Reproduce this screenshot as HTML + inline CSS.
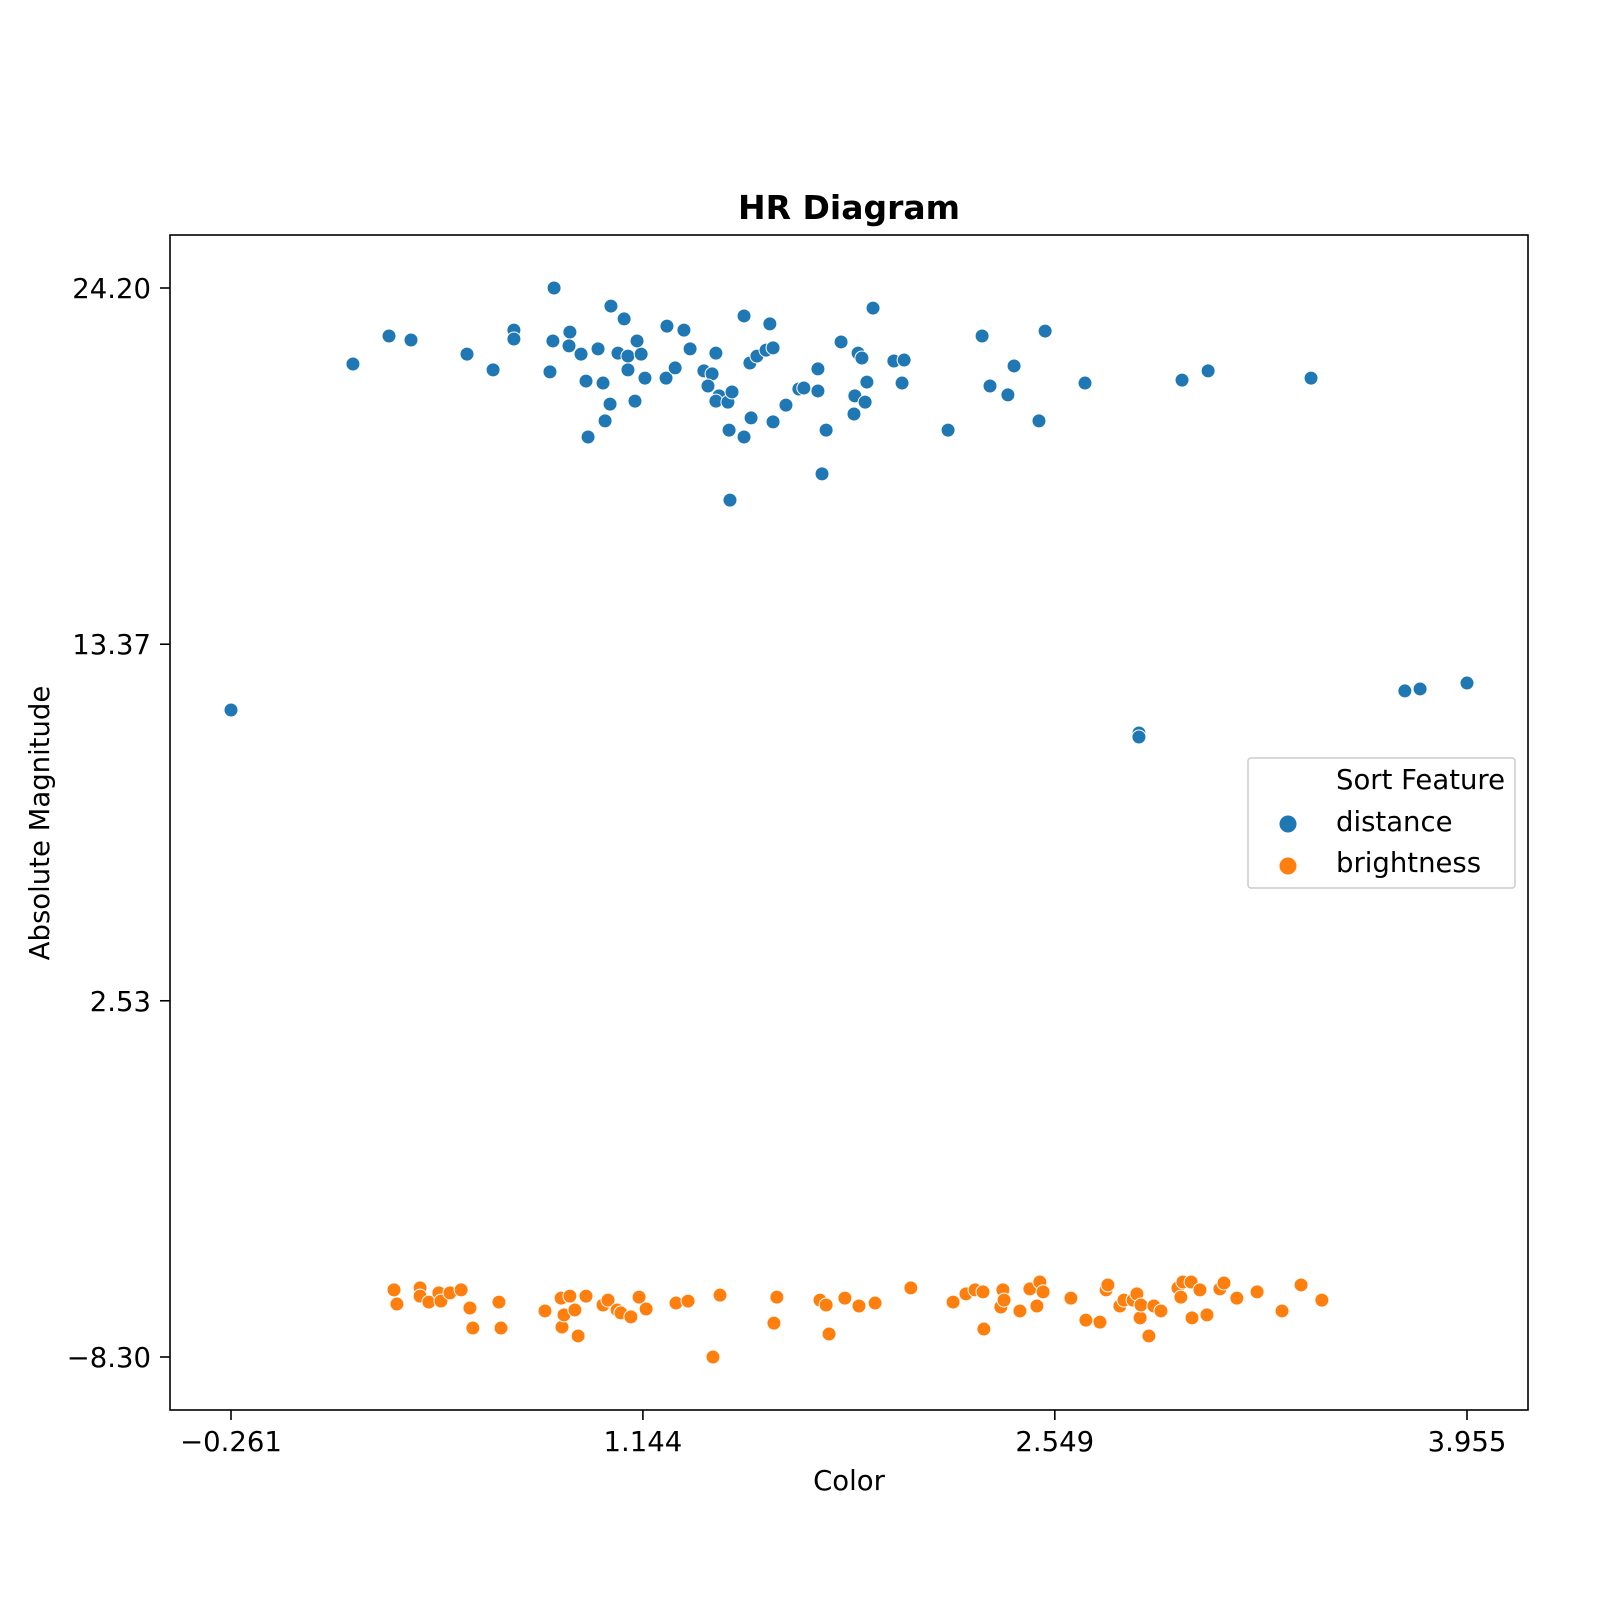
<!DOCTYPE html>
<html><head><meta charset="utf-8"><style>
html,body{margin:0;padding:0;background:#fff;}
svg{display:block;font-family:"DejaVu Sans","Liberation Sans",sans-serif;}
</style></head><body>
<svg id="chart" width="1600" height="1600" viewBox="0 0 1600 1600">
<rect x="0" y="0" width="1600" height="1600" fill="#fff"/>
<text x="849" y="219" text-anchor="middle" font-size="33" font-weight="bold">HR Diagram</text>
<g id="marks"></g>
<rect x="170" y="235" width="1358" height="1175" fill="none" stroke="#000" stroke-width="1.6"/>
<g id="axes"></g>
<text x="849" y="1490" text-anchor="middle" font-size="27.5">Color</text>
<text x="49" y="823" text-anchor="middle" font-size="27.5" transform="rotate(-90 49 823)">Absolute Magnitude</text>
<g>
<rect x="1248" y="758" width="267" height="130" rx="3" fill="#fff" stroke="#ccc" stroke-width="1.5"/>
<text x="1336" y="789" font-size="27.5">Sort Feature</text>
<circle cx="1288" cy="824" r="9" fill="#1f77b4" stroke="#fff" stroke-width="1"/>
<text x="1336" y="831" font-size="27.5">distance</text>
<circle cx="1288" cy="866" r="9" fill="#ff7f0e" stroke="#fff" stroke-width="1"/>
<text x="1336" y="872" font-size="27.5">brightness</text>
</g>
</svg>
<script>
const xTicks = [-0.261, 1.144, 2.549, 3.955];
const yTicks = [24.20, 13.37, 2.53, -8.30];
const xTickLabels = ["\u22120.261", "1.144", "2.549", "3.955"];
const yTickLabels = ["24.20", "13.37", "2.53", "\u22128.30"];

const distanceX = [0.841,1.035,1.929,0.278,0.353,0.704,0.895,1.080,1.226,1.284,1.489,1.577,2.301,2.516,0.155,0.544,0.633,0.704,0.837,0.892,0.827,0.933,0.991,1.059,1.093,1.138,1.124,1.093,1.151,0.950,1.008,1.223,1.254,1.305,1.393,1.352,1.380,1.366,1.404,1.393,1.434,1.448,1.509,1.533,1.564,1.588,1.820,1.741,1.878,1.891,2.000,2.035,1.908,2.028,1.676,1.693,1.741,1.867,1.902,1.864,1.632,1.513,1.588,1.032,1.117,1.015,0.957,1.438,1.489,1.769,2.185,2.410,2.328,2.389,2.495,2.652,2.983,3.072,3.423,1.755,1.441,-0.261,2.836,2.836,3.743,3.795,3.955];
const distanceY = [24.20,23.65,23.59,22.74,22.62,22.92,22.86,23.26,23.04,22.92,23.35,23.11,22.74,22.89,21.89,22.19,21.71,22.65,22.59,22.44,21.65,22.19,22.35,22.22,22.13,22.19,22.59,21.71,21.46,21.37,21.31,21.46,21.77,22.35,22.22,21.68,21.59,21.22,20.92,20.76,20.73,21.04,21.92,22.13,22.31,22.38,22.56,21.74,22.22,22.07,21.98,22.01,21.34,21.31,21.13,21.16,21.07,20.92,20.73,20.37,20.64,20.25,20.13,20.67,20.76,20.16,19.67,19.88,19.67,19.88,19.88,21.83,21.22,20.95,20.16,21.31,21.40,21.68,21.46,18.55,17.75,11.37,10.67,10.55,11.95,12.01,12.19];

const brightnessX = [0.295,0.305,0.384,0.384,0.414,0.448,0.455,0.486,0.524,0.554,0.564,0.653,0.660,0.810,0.865,0.868,0.875,0.895,0.912,0.923,0.950,1.008,1.025,1.056,1.069,1.103,1.131,1.155,1.257,1.298,1.383,1.407,1.591,1.601,1.748,1.769,1.779,1.833,1.881,1.936,2.058,2.202,2.246,2.277,2.304,2.307,2.365,2.372,2.376,2.430,2.464,2.488,2.498,2.509,2.604,2.655,2.703,2.724,2.730,2.771,2.785,2.816,2.829,2.840,2.843,2.870,2.887,2.911,2.969,2.979,2.986,3.014,3.017,3.044,3.068,3.112,3.126,3.170,3.239,3.324,3.389,3.460];
const brightnessY = [-6.26,-6.69,-6.20,-6.45,-6.63,-6.35,-6.60,-6.35,-6.26,-6.81,-7.42,-6.63,-7.42,-6.90,-6.51,-7.39,-7.02,-6.45,-6.87,-7.66,-6.45,-6.72,-6.57,-6.87,-6.96,-7.08,-6.48,-6.84,-6.66,-6.60,-8.30,-6.42,-7.27,-6.48,-6.57,-6.72,-7.60,-6.51,-6.75,-6.66,-6.20,-6.63,-6.38,-6.26,-6.32,-7.45,-6.78,-6.26,-6.57,-6.90,-6.23,-6.75,-6.02,-6.32,-6.51,-7.18,-7.24,-6.26,-6.11,-6.75,-6.57,-6.57,-6.38,-7.11,-6.72,-7.66,-6.75,-6.90,-6.20,-6.48,-6.02,-6.02,-7.11,-6.26,-7.02,-6.23,-6.05,-6.51,-6.32,-6.90,-6.11,-6.57];

const NS = "http://www.w3.org/2000/svg";
function xScale(v){ return 231 + (v - (-0.261)) / (3.955 - (-0.261)) * (1467 - 231); }
function yScale(v){ return 1357 - (v - (-8.30)) / (24.20 - (-8.30)) * (1357 - 288); }

const axes = document.getElementById('axes');
xTicks.forEach(function(t, i){
  const x = xScale(t);
  const ln = document.createElementNS(NS, 'line');
  ln.setAttribute('x1', x); ln.setAttribute('x2', x);
  ln.setAttribute('y1', 1410); ln.setAttribute('y2', 1420);
  ln.setAttribute('stroke', '#000'); ln.setAttribute('stroke-width', '1.6');
  
  
  axes.appendChild(ln);
  const tx = document.createElementNS(NS, 'text');
  tx.setAttribute('x', x); tx.setAttribute('y', 1451);
  tx.setAttribute('text-anchor', 'middle'); tx.setAttribute('font-size', '27.5');
  tx.textContent = xTickLabels[i];
  
  
  axes.appendChild(tx);
});
yTicks.forEach(function(t, i){
  const y = yScale(t);
  const ln = document.createElementNS(NS, 'line');
  ln.setAttribute('x1', 160); ln.setAttribute('x2', 170);
  ln.setAttribute('y1', y); ln.setAttribute('y2', y);
  ln.setAttribute('stroke', '#000'); ln.setAttribute('stroke-width', '1.6');
  
  
  axes.appendChild(ln);
  const tx = document.createElementNS(NS, 'text');
  tx.setAttribute('x', 151); tx.setAttribute('y', y + 10);
  tx.setAttribute('text-anchor', 'end'); tx.setAttribute('font-size', '27.5');
  tx.textContent = yTickLabels[i];
  
  
  axes.appendChild(tx);
});

const marks = document.getElementById('marks');
function drawSeries(xs, ys, color, name){
  for (let i = 0; i < xs.length; i++){
    const c = document.createElementNS(NS, 'circle');
    c.setAttribute('cx', xScale(xs[i]));
    c.setAttribute('cy', yScale(ys[i]));
    c.setAttribute('r', '7');
    c.setAttribute('fill', color);
    c.setAttribute('stroke', '#fff');
    c.setAttribute('stroke-width', '1');
    
    
    marks.appendChild(c);
  }
}
drawSeries(distanceX, distanceY, '#1f77b4', 'distance-point');
drawSeries(brightnessX, brightnessY, '#ff7f0e', 'brightness-point');
</script>
</body></html>
